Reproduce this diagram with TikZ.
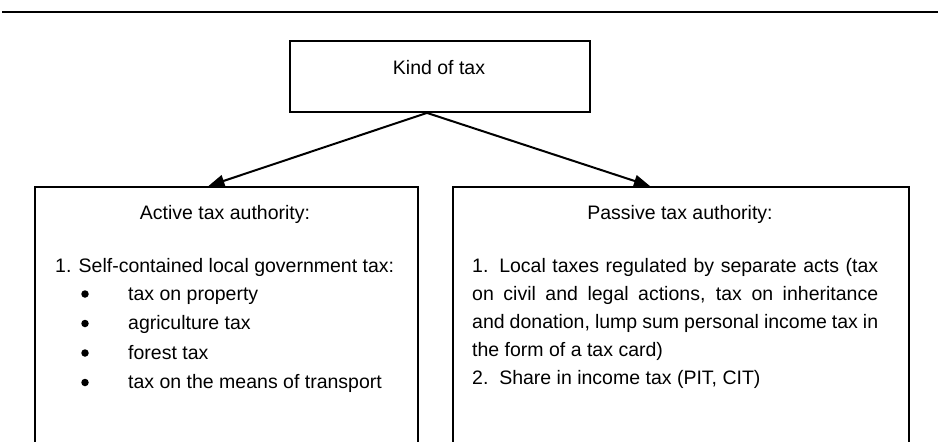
\documentclass[tikz,border=0pt]{standalone}
\usepackage{fontspec}
\setmainfont{Liberation Sans}
\usetikzlibrary{arrows.meta,calc}
\begin{document}
\begin{tikzpicture}[x=1pt,y=-1pt,
  boxline/.style={draw=black,line width=1.9pt},
  txt/.style={inner sep=0pt,font=\fontsize{19.5}{29}\selectfont,anchor=base},
  bul/.style={circle,fill=black,inner sep=0pt,minimum size=7.5pt},
  arr/.style={line width=2pt,-{Triangle[length=16pt,width=12pt]}}]
\useasboundingbox (0,0) rectangle (938,442);
\clip (0,0) rectangle (938,442);
% top rule
\coordinate (ruleL) at (2,12);
\coordinate (ruleR) at (938,12);
\draw[line width=2pt] (ruleL) -- (ruleR);
% boxes
\node[boxline,rectangle,anchor=north west,minimum width=300pt,minimum height=71pt,inner sep=0pt] (kind) at (289,40) {};
\node[boxline,rectangle,anchor=north west,minimum width=383pt,minimum height=290pt,inner sep=0pt] (left) at (34,186) {};
\node[boxline,rectangle,anchor=north west,minimum width=456pt,minimum height=290pt,inner sep=0pt] (right) at (452,186) {};
% texts
\node[txt] (kindtxt) at (439,74) {Kind of tax};
\node[txt] (acttitle) at (225,219) {Active tax authority:};
\node[txt,anchor=base west] (act1) at (55,272) {1. Self-contained local government tax:};
\foreach \i/\t in {0/tax on property,1/agriculture tax,2/forest tax,3/tax on the means of transport}{
  \node[bul] (b\i) at (85,{294+29.5*\i}) {};
  \node[txt,anchor=base west] (bt\i) at (128,{300+29.5*\i}) {\t};
}
\node[txt] (pastitle) at (680,219) {Passive tax authority:};
\node[inner sep=0pt,anchor=north west,text width=406pt,align=justify,font=\fontsize{19.5}{28}\selectfont] (pastxt) at (472,258)
 {1. Local taxes regulated by separate acts (tax\linebreak on civil and legal actions, tax on inheritance\linebreak and donation, lump sum personal income tax in\linebreak the form of a tax card)\\2.\ \ Share in income tax (PIT, CIT)};
% arrows
\coordinate (from) at ($(kind.south)+(-13,0)$);
\coordinate (toL) at ($(left.north)+(-18,0)$);
\coordinate (toR) at ($(right.north)+(-31,0)$);
\draw[arr] (from) -- (toL);
\draw[arr] (from) -- (toR);
\end{tikzpicture}
\end{document}
